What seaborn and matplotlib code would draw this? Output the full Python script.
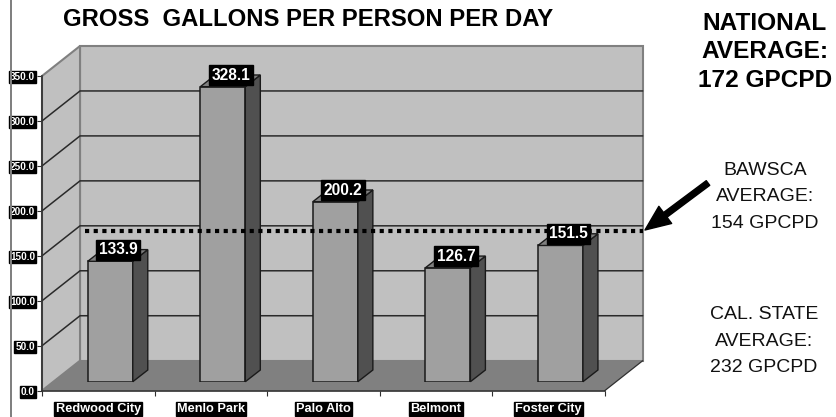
import pandas as pd
import matplotlib
matplotlib.use("Agg")
import matplotlib.pyplot as plt
from matplotlib.patches import Polygon, Rectangle
import seaborn as sns

# values
cities = ["Redwood City", "Menlo Park", "Palo Alto", "Belmont", "Foster City"]
gallons = [133.9, 328.1, 200.2, 126.7, 151.5]
y_ticks = [0, 50, 100, 150, 200, 250, 300, 350]
avg_line = 168

df = pd.DataFrame({"city": cities, "gallons": gallons})

sns.set_theme(style="white")
plt.rcParams["font.family"] = ["Liberation Sans", "DejaVu Sans"]

W, H = 836, 417
fig = plt.figure(figsize=(W / 100, H / 100), dpi=100, facecolor="white")


def box(left, right, bottom, top):
    # pixel box (y measured from the top) to figure fractions
    return [left / W, 1 - bottom / H, (right - left) / W, (bottom - top) / H]


# front plane of the fake 3D chart, holds ticks and walls
ax = fig.add_axes(box(42, 604.7, 390.7, 76))
ax.set_xlim(-0.5, 4.5)
ax.set_ylim(0, 350)
ax.patch.set_visible(False)

# depth of the walls and of the bars, in data units
wall_dx, wall_dy = 38 / 112.5, 30 / 0.899
bar_dx, bar_dy = 15 / 112.5, 11.7 / 0.899
x0, x1, ymax = -0.5, 4.5, 350

wall = "#c0c0c0"
ax.add_patch(Polygon([(x0 + wall_dx, wall_dy), (x1 + wall_dx, wall_dy),
                      (x1 + wall_dx, ymax + wall_dy), (x0 + wall_dx, ymax + wall_dy)],
                     fc=wall, ec="#808080", lw=1.5, clip_on=False, zorder=1))
ax.add_patch(Polygon([(x0, 0), (x0 + wall_dx, wall_dy), (x0 + wall_dx, ymax + wall_dy), (x0, ymax)],
                     fc=wall, ec="#808080", lw=1.5, clip_on=False, zorder=1))
ax.add_patch(Polygon([(x0, 0), (x1, 0), (x1 + wall_dx, wall_dy), (x0 + wall_dx, wall_dy)],
                     fc="#808080", ec="none", clip_on=False, zorder=1))
ax.plot([x1, x1 + wall_dx], [0, wall_dy], color="#303030", lw=0.9, clip_on=False, zorder=2)

# no grid line at the very top, the wall edge is there
for v in y_ticks[1:-1]:
    ax.plot([x0, x0 + wall_dx, x1 + wall_dx], [v, v + wall_dy, v + wall_dy],
            color="#2a2a2a", lw=1.1, clip_on=False, zorder=2)

for side in ["top", "right"]:
    ax.spines[side].set_visible(False)
for side in ["left", "bottom"]:
    ax.spines[side].set_color("#303030")
    ax.spines[side].set_linewidth(1.2)
    ax.spines[side].set_zorder(3)

label_box = dict(facecolor="black", edgecolor="black", pad=0.8)
ax.set_yticks(y_ticks)
ax.set_yticklabels([f"{v:.1f}" for v in y_ticks], fontsize=7.2, fontweight="bold", color="white")
for t in ax.get_yticklabels():
    t.set_bbox(label_box)
ax.tick_params(axis="y", left=True, length=3.5, width=0.8, color="#303030", pad=1.5)

ax.set_xticks(range(len(cities)))
ax.set_xticklabels(cities, fontsize=9.2, fontweight="bold", color="white")
for t in ax.get_xticklabels():
    t.set_bbox(label_box)
ax.set_xticks([x0 + i for i in range(6)], minor=True)
ax.tick_params(axis="x", which="major", bottom=False, pad=3)
ax.tick_params(axis="x", which="minor", bottom=True, length=3.5, width=0.8, color="#303030")

# bars stand a bit behind the front plane
ax_bar = fig.add_axes(box(54, 616.7, 381.7, 67), zorder=5)
sns.barplot(data=df, x="city", y="gallons", color="#a0a0a0", saturation=1, width=0.4,
            edgecolor="#1a1a1a", linewidth=1.1, ax=ax_bar)
ax_bar.set_xlim(-0.5, 4.5)
ax_bar.set_ylim(0, 350)
ax_bar.axis("off")

for i, v in enumerate(gallons):
    left, right = i - 0.2, i + 0.2
    ax_bar.add_patch(Polygon([(right, 0), (right + bar_dx, bar_dy), (right + bar_dx, v + bar_dy), (right, v)],
                             fc="#505050", ec="#1a1a1a", lw=1.0, clip_on=False, zorder=3))
    ax_bar.add_patch(Polygon([(left, v), (right, v), (right + bar_dx, v + bar_dy), (left + bar_dx, v + bar_dy)],
                             fc="#808080", ec="#1a1a1a", lw=1.0, clip_on=False, zorder=3))

# dotted average line, on top of the bars, under the value labels
ax_bar.plot([-0.5 + wall_dx * 0.82, 4.5 + wall_dx - bar_dx * 0.8], [avg_line, avg_line], color="black", lw=3,
            linestyle=(0, (1, 1.08)), clip_on=False, zorder=4)

for i, v in enumerate(gallons):
    ax_bar.annotate(f"{v:.1f}", (i, v), xytext=(8, 11.5), textcoords="offset pixels",
                    ha="center", va="center", fontsize=11.2, fontweight="bold", color="white",
                    bbox=dict(facecolor="black", edgecolor="black", pad=1.8), zorder=6,
                    annotation_clip=False)

# left border strip
fig.add_artist(Rectangle((9.5 / W, 0), 2.5 / W, 1, transform=fig.transFigure, fc="#808080", ec="none"))

fig.text(308 / W, 1 - 19 / H, "GROSS  GALLONS PER PERSON PER DAY", ha="center", va="center",
         fontsize=17.2, fontweight="bold", color="black")

fig.text(765 / W, 1 - 52 / H, "NATIONAL\nAVERAGE:\n172 GPCPD", ha="center", va="center",
         fontsize=17.6, fontweight="bold", color="black", linespacing=1.28)
fig.text(765 / W, 1 - 197 / H, "BAWSCA\nAVERAGE:\n154 GPCPD", ha="center", va="center",
         fontsize=14, color="#111111", linespacing=1.76)
fig.text(764 / W, 1 - 341 / H, "CAL. STATE\nAVERAGE:\n232 GPCPD", ha="center", va="center",
         fontsize=14, color="#111111", linespacing=1.76)

fig.add_artist(plt.Annotation("", xy=(645 / W, 1 - 230 / H), xytext=(708 / W, 1 - 183 / H),
                              xycoords="figure fraction", textcoords="figure fraction",
                              arrowprops=dict(arrowstyle="simple,head_length=1.3,head_width=1.1,tail_width=0.3",
                                              fc="black", ec="black", shrinkA=0, shrinkB=0, mutation_scale=14)))

plt.savefig("out.png", dpi=100)
